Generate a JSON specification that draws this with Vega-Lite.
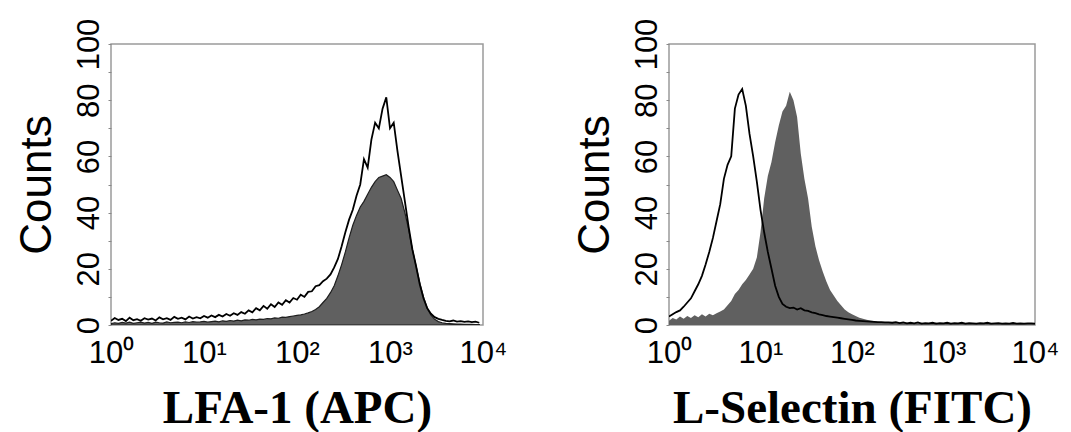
{
  "$schema": "https://vega.github.io/schema/vega-lite/v6.json",
  "background": "white",
  "padding": {"left": 14, "top": 17, "right": 5, "bottom": 0},
  "spacing": 186,
  "bounds": "flush",
  "config": {
    "view": {"stroke": "#9a9a9a", "strokeWidth": 1.5},
    "axis": {
      "grid": false,
      "domain": false,
      "labelFont": "Liberation Sans",
      "labelColor": "#000000",
      "titleColor": "#000000",
      "tickColor": "#888888"
    },
    "axisX": {
      "values": [0, 1, 2, 3, 4],
      "labelExpr": "'10' + ['⁰','¹','²','³','⁴'][datum.value]",
      "labelFontSize": 31,
      "labelFlush": false,
      "labelPadding": 13,
      "ticks": false,
      "titleFont": "Liberation Serif",
      "titleFontWeight": "bold",
      "titleFontSize": 47,
      "titlePadding": 17
    },
    "axisY": {
      "values": [0, 5, 10, 15, 20, 25, 30, 35, 40, 45, 50, 55, 60, 65, 70, 75, 80, 85, 90, 95, 100],
      "labelExpr": "datum.value % 20 == 0 ? datum.label : ''",
      "labelAngle": -90,
      "labelAlign": "center",
      "labelBaseline": "bottom",
      "labelFontSize": 31,
      "labelPadding": 3,
      "tickSize": 3,
      "titleFont": "Liberation Sans",
      "titleFontWeight": "normal",
      "titleFontSize": 44,
      "titlePadding": 14
    }
  },
  "datasets": {
    "lfa": [
      {"d":0.00,"g":0.5,"b":1.5},{"d":0.04,"g":0.8,"b":2.5},{"d":0.08,"g":0.6,"b":1.8},{"d":0.12,"g":0.9,"b":2.2},
      {"d":0.16,"g":0.7,"b":1.4},{"d":0.20,"g":1.0,"b":2.6},{"d":0.24,"g":0.6,"b":1.7},{"d":0.28,"g":0.8,"b":2.1},
      {"d":0.32,"g":1.0,"b":1.5},{"d":0.36,"g":0.7,"b":2.4},{"d":0.40,"g":0.9,"b":1.9},{"d":0.44,"g":0.6,"b":2.3},
      {"d":0.48,"g":1.0,"b":1.6},{"d":0.52,"g":0.8,"b":2.7},{"d":0.56,"g":0.7,"b":2.0},{"d":0.60,"g":1.1,"b":2.4},
      {"d":0.64,"g":0.8,"b":1.8},{"d":0.68,"g":0.9,"b":2.9},{"d":0.72,"g":1.0,"b":2.2},{"d":0.76,"g":0.8,"b":2.6},
      {"d":0.80,"g":1.1,"b":2.0},{"d":0.84,"g":0.9,"b":3.0},{"d":0.88,"g":1.2,"b":2.3},{"d":0.92,"g":1.0,"b":2.8},
      {"d":0.96,"g":1.1,"b":2.4},{"d":1.00,"g":1.3,"b":3.2},{"d":1.04,"g":1.0,"b":2.6},{"d":1.08,"g":1.2,"b":3.4},
      {"d":1.12,"g":1.4,"b":2.8},{"d":1.16,"g":1.1,"b":3.6},{"d":1.20,"g":1.5,"b":3.0},{"d":1.24,"g":1.3,"b":3.9},
      {"d":1.28,"g":1.6,"b":3.3},{"d":1.32,"g":1.4,"b":4.2},{"d":1.36,"g":1.7,"b":3.6},{"d":1.40,"g":1.5,"b":4.6},
      {"d":1.44,"g":1.8,"b":4.0},{"d":1.48,"g":1.7,"b":5.2},{"d":1.52,"g":2.0,"b":4.5},{"d":1.56,"g":1.8,"b":6.0},
      {"d":1.60,"g":2.1,"b":5.2},{"d":1.64,"g":2.0,"b":6.8},{"d":1.68,"g":2.3,"b":5.8},{"d":1.72,"g":2.2,"b":7.4},
      {"d":1.76,"g":2.5,"b":6.4},{"d":1.80,"g":2.4,"b":8.0},{"d":1.84,"g":2.8,"b":7.2},{"d":1.88,"g":2.7,"b":8.8},
      {"d":1.92,"g":3.0,"b":8.0},{"d":1.96,"g":3.2,"b":9.6},{"d":2.00,"g":3.4,"b":9.0},{"d":2.04,"g":3.6,"b":10.8},
      {"d":2.08,"g":3.9,"b":10.0},{"d":2.12,"g":4.3,"b":11.8},{"d":2.16,"g":4.8,"b":12.0},{"d":2.20,"g":5.5,"b":13.8},
      {"d":2.24,"g":6.5,"b":14.2},{"d":2.28,"g":8.0,"b":15.6},{"d":2.32,"g":9.5,"b":16.5},{"d":2.36,"g":11.5,"b":18.0},
      {"d":2.40,"g":14.0,"b":20.5},{"d":2.44,"g":17.5,"b":23.5},{"d":2.48,"g":21.5,"b":28.0},{"d":2.52,"g":26.0,"b":33.0},
      {"d":2.56,"g":31.0,"b":37.5},{"d":2.60,"g":35.5,"b":41.0},{"d":2.64,"g":39.0,"b":46.0},{"d":2.68,"g":42.0,"b":50.0},
      {"d":2.72,"g":44.0,"b":59.0},{"d":2.76,"g":46.5,"b":56.0},{"d":2.80,"g":49.0,"b":66.0},{"d":2.84,"g":51.0,"b":72.0},
      {"d":2.88,"g":52.5,"b":70.0},{"d":2.92,"g":53.0,"b":77.0},{"d":2.96,"g":53.5,"b":81.0},{"d":3.00,"g":52.5,"b":70.0},
      {"d":3.04,"g":51.0,"b":72.0},{"d":3.08,"g":48.0,"b":62.0},{"d":3.12,"g":45.0,"b":53.0},{"d":3.16,"g":40.0,"b":44.0},
      {"d":3.20,"g":34.0,"b":35.0},{"d":3.24,"g":27.0,"b":27.0},{"d":3.28,"g":21.0,"b":21.0},{"d":3.32,"g":15.0,"b":14.5},
      {"d":3.36,"g":10.0,"b":9.5},{"d":3.40,"g":6.0,"b":6.0},{"d":3.44,"g":3.5,"b":4.0},{"d":3.48,"g":2.0,"b":2.8},
      {"d":3.52,"g":1.2,"b":2.2},{"d":3.56,"g":0.8,"b":1.8},{"d":3.60,"g":0.6,"b":1.5},{"d":3.64,"g":0.5,"b":1.3},
      {"d":3.68,"g":0.4,"b":1.6},{"d":3.72,"g":0.3,"b":1.2},{"d":3.76,"g":0.3,"b":1.4},{"d":3.80,"g":0.2,"b":1.1},
      {"d":3.84,"g":0.2,"b":1.3},{"d":3.88,"g":0.2,"b":1.0},{"d":3.92,"g":0.1,"b":1.2},{"d":3.96,"g":0.1,"b":0.8}
    ],
    "lsel": [
      {"d":0.00,"g":1.5,"b":3.0},{"d":0.04,"g":2.5,"b":3.8},{"d":0.08,"g":2.0,"b":4.6},{"d":0.12,"g":3.0,"b":5.2},
      {"d":0.16,"g":2.2,"b":6.5},{"d":0.20,"g":3.2,"b":8.0},{"d":0.24,"g":2.5,"b":9.5},{"d":0.28,"g":3.5,"b":12.0},
      {"d":0.32,"g":2.8,"b":14.5},{"d":0.36,"g":3.8,"b":17.5},{"d":0.40,"g":3.0,"b":21.5},{"d":0.44,"g":4.0,"b":26.0},
      {"d":0.48,"g":3.5,"b":31.0},{"d":0.52,"g":4.2,"b":37.0},{"d":0.56,"g":4.8,"b":43.0},{"d":0.60,"g":5.5,"b":52.0},
      {"d":0.64,"g":7.0,"b":57.0},{"d":0.68,"g":8.5,"b":60.0},{"d":0.72,"g":11.0,"b":77.0},{"d":0.76,"g":12.5,"b":82.0},
      {"d":0.80,"g":14.5,"b":84.0},{"d":0.84,"g":16.0,"b":78.0},{"d":0.88,"g":18.0,"b":68.0},{"d":0.92,"g":20.0,"b":60.0},
      {"d":0.96,"g":24.0,"b":51.0},{"d":1.00,"g":33.0,"b":41.0},{"d":1.04,"g":45.0,"b":33.0},{"d":1.08,"g":53.0,"b":26.0},
      {"d":1.12,"g":58.0,"b":20.0},{"d":1.16,"g":65.0,"b":14.0},{"d":1.20,"g":71.0,"b":10.0},{"d":1.24,"g":76.0,"b":7.5},
      {"d":1.28,"g":78.0,"b":6.5},{"d":1.32,"g":83.0,"b":6.0},{"d":1.36,"g":80.0,"b":6.2},{"d":1.40,"g":74.0,"b":5.5},
      {"d":1.44,"g":61.0,"b":6.0},{"d":1.48,"g":52.0,"b":5.2},{"d":1.52,"g":45.0,"b":5.0},{"d":1.56,"g":35.0,"b":4.5},
      {"d":1.60,"g":28.0,"b":4.2},{"d":1.64,"g":23.0,"b":3.8},{"d":1.68,"g":19.0,"b":3.5},{"d":1.72,"g":15.5,"b":3.2},
      {"d":1.76,"g":12.5,"b":3.0},{"d":1.80,"g":10.5,"b":2.8},{"d":1.84,"g":8.5,"b":2.6},{"d":1.88,"g":7.0,"b":2.4},
      {"d":1.92,"g":5.5,"b":2.2},{"d":1.96,"g":4.5,"b":2.0},{"d":2.00,"g":3.8,"b":1.8},{"d":2.04,"g":3.2,"b":1.6},
      {"d":2.08,"g":2.6,"b":1.5},{"d":2.12,"g":2.2,"b":1.4},{"d":2.16,"g":1.9,"b":1.3},{"d":2.20,"g":1.6,"b":1.2},
      {"d":2.24,"g":1.4,"b":1.1},{"d":2.28,"g":1.2,"b":1.0},{"d":2.32,"g":1.0,"b":1.0},{"d":2.36,"g":0.9,"b":0.9},
      {"d":2.40,"g":0.8,"b":0.9},{"d":2.44,"g":0.8,"b":0.8},{"d":2.48,"g":0.7,"b":1.0},{"d":2.52,"g":0.9,"b":0.7},
      {"d":2.56,"g":0.6,"b":0.9},{"d":2.60,"g":0.8,"b":0.6},{"d":2.64,"g":0.5,"b":0.8},{"d":2.68,"g":0.7,"b":0.6},
      {"d":2.72,"g":0.6,"b":0.9},{"d":2.76,"g":0.8,"b":0.5},{"d":2.80,"g":0.5,"b":0.7},{"d":2.84,"g":0.7,"b":0.6},
      {"d":2.88,"g":0.6,"b":0.8},{"d":2.92,"g":0.8,"b":0.5},{"d":2.96,"g":0.5,"b":0.7},{"d":3.00,"g":0.7,"b":0.6},
      {"d":3.04,"g":0.6,"b":0.8},{"d":3.08,"g":0.5,"b":0.5},{"d":3.12,"g":0.7,"b":0.7},{"d":3.16,"g":0.5,"b":0.6},
      {"d":3.20,"g":0.6,"b":0.8},{"d":3.24,"g":0.5,"b":0.5},{"d":3.28,"g":0.7,"b":0.7},{"d":3.32,"g":0.5,"b":0.6},
      {"d":3.36,"g":0.6,"b":0.5},{"d":3.40,"g":0.5,"b":0.7},{"d":3.44,"g":0.6,"b":0.6},{"d":3.48,"g":0.4,"b":0.8},
      {"d":3.52,"g":0.6,"b":0.5},{"d":3.56,"g":0.5,"b":0.6},{"d":3.60,"g":0.6,"b":0.7},{"d":3.64,"g":0.4,"b":0.5},
      {"d":3.68,"g":0.5,"b":0.6},{"d":3.72,"g":0.6,"b":0.5},{"d":3.76,"g":0.4,"b":0.7},{"d":3.80,"g":0.5,"b":0.5},
      {"d":3.84,"g":0.6,"b":0.6},{"d":3.88,"g":0.4,"b":0.5},{"d":3.92,"g":0.5,"b":0.6},{"d":3.96,"g":0.5,"b":0.6},
      {"d":4.00,"g":0.4,"b":0.5}
    ]
  },
  "hconcat": [
    {
      "width": 372,
      "height": 281,
      "data": {"name": "lfa"},
      "layer": [
        {
          "mark": {"type": "area", "fill": "#606060", "opacity": 1, "fillOpacity": 1, "stroke": "#1e1e1e", "strokeWidth": 1.2, "clip": true},
          "encoding": {
            "x": {"field": "d", "type": "quantitative", "scale": {"domain": [0, 4], "nice": false}, "title": "LFA-1 (APC)"},
            "y": {"field": "g", "type": "quantitative", "scale": {"domain": [0, 100], "nice": false}, "title": "Counts"}
          }
        },
        {
          "mark": {"type": "line", "color": "#000000", "strokeWidth": 1.8, "clip": true},
          "encoding": {
            "x": {"field": "d", "type": "quantitative", "title": "LFA-1 (APC)"},
            "y": {"field": "b", "type": "quantitative", "title": "Counts"}
          }
        }
      ]
    },
    {
      "width": 366,
      "height": 281,
      "data": {"name": "lsel"},
      "layer": [
        {
          "mark": {"type": "area", "fill": "#606060", "opacity": 1, "fillOpacity": 1, "clip": true},
          "encoding": {
            "x": {"field": "d", "type": "quantitative", "scale": {"domain": [0, 4], "nice": false}, "title": "L-Selectin (FITC)"},
            "y": {"field": "g", "type": "quantitative", "scale": {"domain": [0, 100], "nice": false}, "title": "Counts"}
          }
        },
        {
          "mark": {"type": "line", "color": "#000000", "strokeWidth": 1.8, "clip": true},
          "encoding": {
            "x": {"field": "d", "type": "quantitative", "title": "L-Selectin (FITC)"},
            "y": {"field": "b", "type": "quantitative", "title": "Counts"}
          }
        }
      ]
    }
  ]
}
